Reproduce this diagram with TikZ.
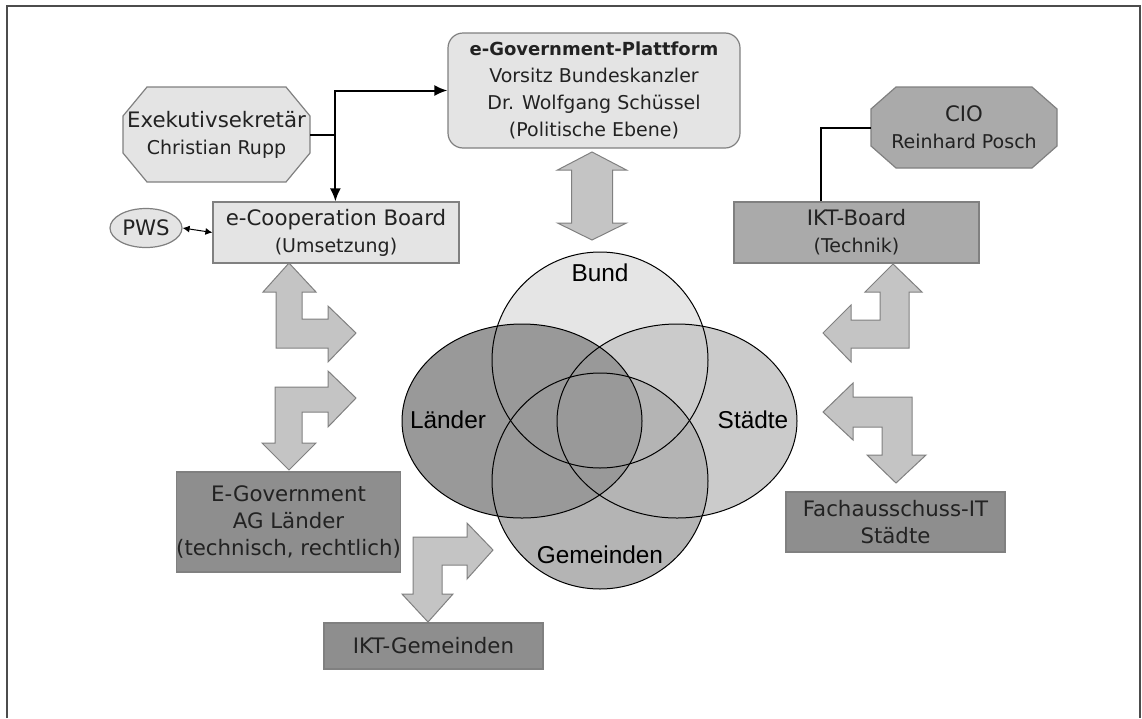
\documentclass[tikz,border=0pt]{standalone}
\usepackage{fontspec}
\setmainfont{DejaVu Sans}
\newfontfamily\vennfont{Liberation Sans}
\usetikzlibrary{arrows.meta,shapes.geometric}

\definecolor{boxlight}{RGB}{228,228,228}
\definecolor{boxmid}{RGB}{170,170,170}
\definecolor{boxdark}{RGB}{142,142,142}
\definecolor{boxline}{RGB}{128,128,128}
\definecolor{arrowfill}{RGB}{196,196,196}
\definecolor{txtgray}{RGB}{34,34,34}
\definecolor{bundcol}{RGB}{229,229,229}
\definecolor{staedtecol}{RGB}{203,203,203}
\definecolor{gemcol}{RGB}{180,180,180}
\definecolor{laendercol}{RGB}{153,153,153}

\newcommand{\mainsize}{\fontsize{21.3}{27}\selectfont}
\newcommand{\subsize}{\fontsize{19}{27}\selectfont}
\newcommand{\headsize}{\fontsize{18}{26}\selectfont}

\tikzset{every picture/.style={line width=0.75pt}}
\tikzset{
	orgbox/.style={draw=boxline, line width=1.2pt, text=txtgray, align=center, inner sep=0pt, font=\mainsize},
	lightbox/.style={orgbox, fill=boxlight},
	midbox/.style={orgbox, fill=boxmid},
	darkbox/.style={orgbox, fill=boxdark},
	octtext/.style={text=txtgray, align=center, inner sep=0pt, font=\mainsize},
	octline/.style={draw=boxline, line width=1.2pt},
	blockarrow/.style={draw=boxline, line width=1pt, fill=arrowfill},
	link/.style={line width=2pt, black},
	venntext/.style={font=\vennfont\fontsize{24.4}{28}\selectfont},
	vennline/.style={line width=1pt, black}}

\begin{document}
\begin{tikzpicture}[x=1pt,y=1pt,yscale=-1,xscale=1]
	\useasboundingbox (0,0) rectangle (1142,718);

	%Frame
	\draw [line width=2pt, color=black!70] (7,718) -- (7,6) -- (1140,6) -- (1140,718);

	%Venn: fills
	\fill [bundcol] (600,360) circle [radius=108];
	\fill [staedtecol] (677,421) ellipse [x radius=120, y radius=97];
	\fill [gemcol] (600,481) circle [radius=108];
	\fill [laendercol] (522,421) ellipse [x radius=120, y radius=97];
	%Venn: outlines
	\draw [vennline] (600,360) circle [radius=108];
	\draw [vennline] (677,421) ellipse [x radius=120, y radius=97];
	\draw [vennline] (600,481) circle [radius=108];
	\draw [vennline] (522,421) ellipse [x radius=120, y radius=97];

	% Text Node
	\node [venntext] (bund) at (600,273) {Bund};
	% Text Node
	\node [venntext] (laender) at (448,420) {Länder};
	% Text Node
	\node [venntext] (staedte) at (753,420) {Städte};
	% Text Node
	\node [venntext] (gemeinden) at (600,555) {Gemeinden};

	%Shape: Octagon
	\draw [octline, fill=boxlight] (147,87) -- (286,87) -- (310,116) -- (310,153) -- (286,182) -- (147,182) -- (123,153) -- (123,116) -- cycle;
	\node [octtext, minimum width=187, minimum height=95] (exek) at (216.5,134.5) {Exekutivsekretär\\{\subsize Christian Rupp}};

	%Shape: Octagon
	\draw [octline, fill=boxmid] (896,87) -- (1032,87) -- (1057,109) -- (1057,146) -- (1032,168) -- (896,168) -- (871,146) -- (871,109) -- cycle;
	\node [octtext, minimum width=186, minimum height=81] (cio) at (964,127.5) {CIO\\{\subsize Reinhard Posch}};

	%Boxes
	\node [lightbox, rounded corners=15, minimum width=292, minimum height=115, font=\subsize] (plat) at (594,90.5)
		{{\headsize\bfseries e-Government-Plattform}\\Vorsitz Bundeskanzler\\Dr. Wolfgang Schüssel\\(Politische Ebene)};
	\node [lightbox, minimum width=246, minimum height=61] (ecoop) at (336,232.5) {e-Cooperation Board\\{\subsize (Umsetzung)}};
	\node [lightbox, ellipse, minimum width=72, minimum height=39] (pws) at (146,228) {PWS};
	\node [midbox, minimum width=245, minimum height=61] (iktb) at (856.5,232.5) {IKT-Board\\{\subsize (Technik)}};
	\node [darkbox, minimum width=223, minimum height=100] (egov) at (288.5,522) {E-Government\\AG Länder\\(technisch, rechtlich)};
	\node [darkbox, minimum width=219, minimum height=60] (fach) at (895.5,522) {Fachausschuss-IT\\Städte};
	\node [darkbox, minimum width=219, minimum height=46] (iktg) at (433.5,646) {IKT-Gemeinden};

	%Connectors
	\draw [link] (exek.east) -- ++(25,0) coordinate (jn);
	\draw [link, -{Latex[length=13pt,width=11pt]}] (jn) |- (plat.west);
	\draw [link, -{Latex[length=13pt,width=11pt]}] (jn) -- (jn |- ecoop.north);
	\draw [link] (cio.west) -| ([xshift=88pt]iktb.north west);
	\draw [line width=1pt, {Latex[length=7pt,width=7pt]}-{Latex[length=7pt,width=7pt]}] (pws.east) -- (ecoop.west);

	%Double Arrow
	\draw [blockarrow] (592,152) -- (626.5,170) -- (612.5,170) -- (612.5,223) -- (626.5,223) -- (592,240) -- (557.5,223) -- (571.5,223) -- (571.5,170) -- (557.5,170) -- cycle;
	%Bent Arrow
	\draw [blockarrow] (289,263) -- (316,292) -- (302,292) -- (302,319) -- (328,319) -- (328,306) -- (356,333) -- (328,362) -- (328,348) -- (276,348) -- (276,292) -- (263,292) -- cycle;
	%Bent Arrow
	\draw [blockarrow] (356,398) -- (328,427) -- (328,412) -- (302,412) -- (302,443) -- (316,443) -- (289,470) -- (262,443) -- (275,443) -- (275,387) -- (328,387) -- (328,371) -- cycle;
	%Bent Arrow
	\draw [blockarrow] (493,550) -- (467,579) -- (467,565) -- (442,565) -- (442,594) -- (453,594) -- (428,622) -- (402,594) -- (413,594) -- (413,537) -- (467,537) -- (467,523) -- cycle;
	%Bent Arrow
	\draw [blockarrow] (893,264) -- (922,292) -- (909,292) -- (909,348) -- (851,348) -- (851,362) -- (823,333) -- (851,305) -- (851,320) -- (880,320) -- (880,292) -- (865,292) -- cycle;
	%Bent Arrow
	\draw [blockarrow] (823,412) -- (853,383) -- (853,397) -- (912,397) -- (912,455) -- (926,455) -- (896,483) -- (867,455) -- (882,455) -- (882,427) -- (853,427) -- (853,440) -- cycle;

\end{tikzpicture}
\end{document}
